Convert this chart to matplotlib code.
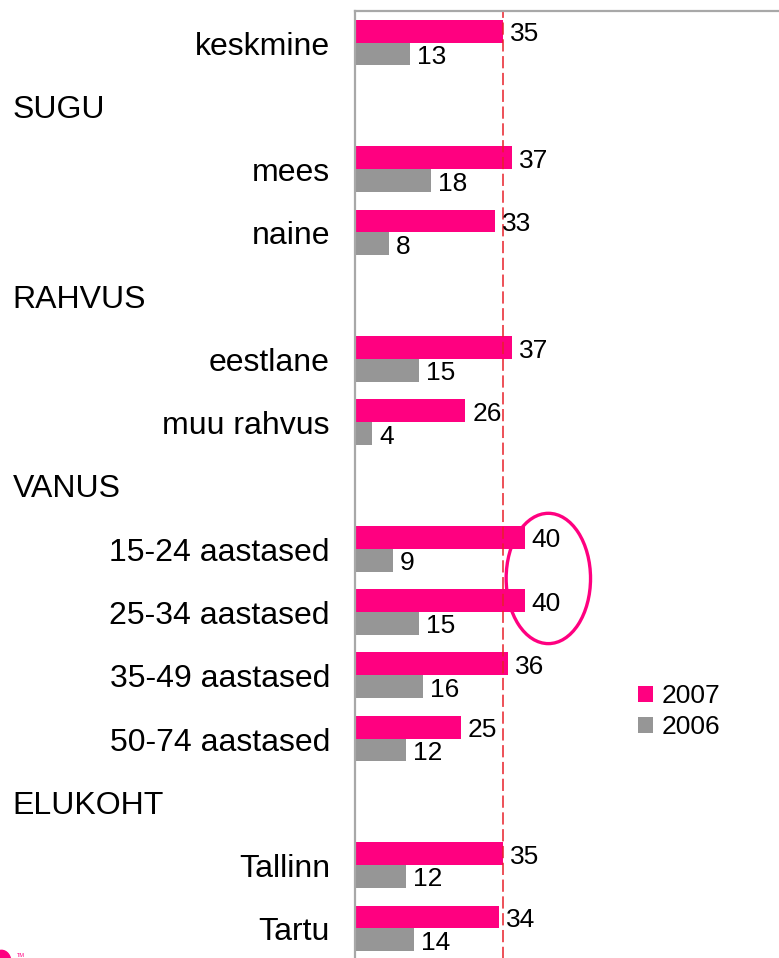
import numpy as np
import matplotlib
matplotlib.use('Agg')
import matplotlib.pyplot as plt
from matplotlib.patches import Ellipse, Circle
from matplotlib.transforms import offset_copy

plt.rcParams['font.family'] = ['Liberation Sans', 'DejaVu Sans']

ROWS = ['keskmine', 'SUGU', 'mees', 'naine', 'RAHVUS', 'eestlane', 'muu rahvus',
        'VANUS', '15-24 aastased', '25-34 aastased', '35-49 aastased',
        '50-74 aastased', 'ELUKOHT', 'Tallinn', 'Tartu']
HEADERS = {'SUGU', 'RAHVUS', 'VANUS', 'ELUKOHT'}
V2007 = [35, None, 37, 33, None, 37, 26, None, 40, 40, 36, 25, None, 35, 34]
V2006 = [13, None, 18, 8, None, 15, 4, None, 9, 15, 16, 12, None, 12, 14]
AVERAGE = 35

PINK = '#FF0080'
GREY = '#969696'

fig = plt.figure(figsize=(7.79, 9.58), dpi=100)
ax = fig.add_axes([355 / 779, -0.002, 1 - 355 / 779, 0.9905])

h = 0.36
lab_tr = offset_copy(ax.get_yaxis_transform(), fig=fig, x=0, y=-4, units='dots')
val_tr = offset_copy(ax.transData, fig=fig, x=7, y=-3, units='dots')
for i, (name, a, b) in enumerate(zip(ROWS, V2007, V2006)):
    if name in HEADERS:
        ax.text(-0.807, i, name, transform=lab_tr,
                ha='left', va='center', fontsize=23)
        continue
    ax.text(-0.059, i, name, transform=lab_tr,
            ha='right', va='center', fontsize=23)
    ax.barh(i - h / 2, a, height=h, color=PINK, label='2007' if i == 0 else None)
    ax.barh(i + h / 2, b, height=h, color=GREY, label='2006' if i == 0 else None)
    ax.text(a, i - h / 2, str(a), transform=val_tr, ha='left', va='center', fontsize=19)
    ax.text(b, i + h / 2, str(b), transform=val_tr, ha='left', va='center', fontsize=19)

ax.axvline(AVERAGE, color='#E8202A', lw=1.1, ls=(0, (8, 3)))

# highlight of the youngest age groups
ax.add_patch(Ellipse((45.6, 8.47), 19.9, 2.06, fill=False, ec=PINK, lw=2.4,
                     clip_on=False))

ax.set_xlim(0, 100)
ax.set_ylim(14.5, -0.5)
ax.set_xticks([])
ax.set_yticks([])
for s in ['right', 'bottom']:
    ax.spines[s].set_visible(False)
for s in ['left', 'top']:
    ax.spines[s].set_color('#A8A8A8')
    ax.spines[s].set_linewidth(1.6)

fig.legend(loc='center left', bbox_to_anchor=(0.819, 0.257), frameon=False,
           fontsize=19, handlelength=0.55, handleheight=0.55, handletextpad=0.35,
           labelspacing=0.25, borderaxespad=0, borderpad=0)

# corner logo fragment
fig.patches.append(Circle((0.002, -0.004), 0.012, transform=fig.transFigure,
                          color=PINK, clip_on=False))
fig.text(0.022, 0.001, 'TM', fontsize=4, color=PINK)

fig.savefig('out.png', dpi=100)
